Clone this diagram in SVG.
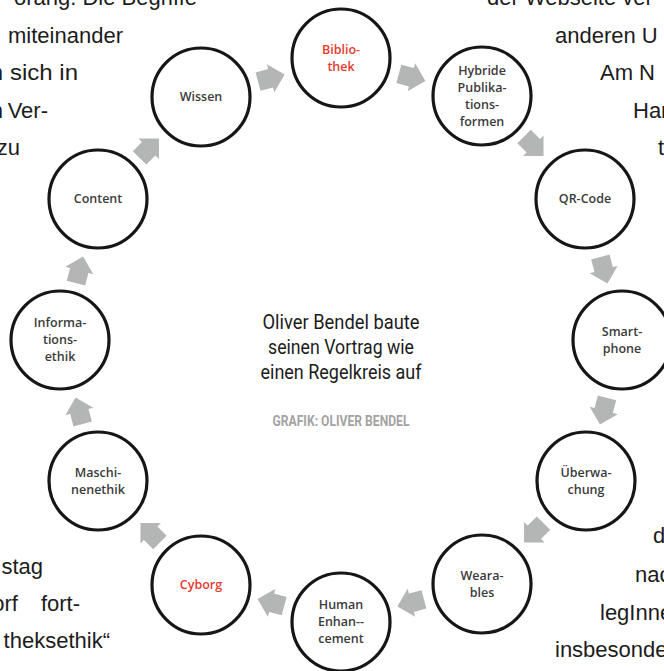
<svg xmlns="http://www.w3.org/2000/svg" width="664" height="671" viewBox="0 0 664 671">
<defs>
<style>
.nd circle{fill:#fff;stroke:#161616;stroke-width:3.2}
.lbl{font-family:"Open Sans","Noto Sans",sans-serif;font-size:12.5px;font-weight:600;fill:#3b3b3b;text-anchor:middle}
.red{fill:#e53a2e}
.arw{fill:#b4b6b5}
.body{font-family:"Liberation Sans",Arial,sans-serif;font-size:22px;fill:#1c1c1c}
.cap{font-family:Roboto,"Liberation Sans",sans-serif;font-size:21px;fill:#1c1c1c;text-anchor:middle}
.credit{font-family:Roboto,"Liberation Sans",sans-serif;font-size:14px;font-weight:bold;fill:#a3a3a3;text-anchor:middle}
.end{text-anchor:end}
</style>
<path id="ar" d="M-13,-9.5 H0 V-14.5 L14.5,0 L0,14.5 V9.5 H-13 Z"/>
</defs>
<rect width="664" height="671" fill="#fff"/>

<g id="article-text" class="body">
<text x="197" y="5" class="end">orang. Die Begriffe</text>
<text x="123" y="42.5" class="end">miteinander</text>
<text x="3" y="80" class="end">n</text>
<text x="10" y="80" textLength="68" lengthAdjust="spacingAndGlyphs">sich in</text>
<text x="3" y="117.5" class="end">n</text>
<text x="48" y="117.5" class="end">Ver-</text>
<text x="20" y="155" class="end">zu</text>
<text x="487" y="5">der Webseite ver</text>
<text x="555" y="42.5">anderen U</text>
<text x="600" y="80">Am N</text>
<text x="633" y="117.5">Har</text>
<text x="658" y="155">t</text>
<text x="43" y="574" class="end">stag</text>
<text x="18" y="611" class="end">orf</text>
<text x="80" y="611" class="end">fort-</text>
<text x="110" y="648" class="end">theksethik“</text>
<text x="653" y="543">d</text>
<text x="635" y="582">nac</text>
<text x="600" y="620">legInne</text>
<text x="555" y="657">insbesonde</text>
</g>

<g id="caption">
<text class="cap" x="341" y="329" textLength="157" lengthAdjust="spacingAndGlyphs">Oliver Bendel baute</text>
<text class="cap" x="341" y="354" textLength="146" lengthAdjust="spacingAndGlyphs">seinen Vortrag wie</text>
<text class="cap" x="341" y="379" textLength="161" lengthAdjust="spacingAndGlyphs">einen Regelkreis auf</text>
<text class="credit" x="341" y="426" textLength="137" lengthAdjust="spacingAndGlyphs">GRAFIK: OLIVER BENDEL</text>
</g>

<g id="connectors" class="arw">
<use href="#ar" transform="translate(411.4,77.3) rotate(15)"/>
<use href="#ar" transform="translate(533.3,145.7) rotate(45)"/>
<use href="#ar" transform="translate(603.7,269.6) rotate(75)"/>
<use href="#ar" transform="translate(603.7,410.4) rotate(105)"/>
<use href="#ar" transform="translate(534.3,532.3) rotate(135)"/>
<use href="#ar" transform="translate(411.4,602.7) rotate(165)"/>
<use href="#ar" transform="translate(271.6,602.7) rotate(195)"/>
<use href="#ar" transform="translate(150.7,533.3) rotate(225)"/>
<use href="#ar" transform="translate(79.3,411.4) rotate(255)"/>
<use href="#ar" transform="translate(79.3,270.6) rotate(285)"/>
<use href="#ar" transform="translate(148.7,148.7) rotate(315)"/>
<use href="#ar" transform="translate(270.6,78.3) rotate(345)"/>
</g>

<g id="node-bibliothek" class="nd">
<circle cx="341" cy="58" r="49"/>
<text class="lbl red" x="341" y="54">Biblio-</text>
<text class="lbl red" x="341" y="71">thek</text>
</g>
<g id="node-hybride" class="nd">
<circle cx="482" cy="96" r="49"/>
<text class="lbl" x="482" y="75">Hybride</text>
<text class="lbl" x="482" y="92">Publika-</text>
<text class="lbl" x="482" y="109">tions-</text>
<text class="lbl" x="482" y="126">formen</text>
</g>
<g id="node-qrcode" class="nd">
<circle cx="585" cy="199" r="49"/>
<text class="lbl" x="585" y="203">QR-Code</text>
</g>
<g id="node-smartphone" class="nd">
<circle cx="622" cy="340" r="49"/>
<text class="lbl" x="622" y="336">Smart-</text>
<text class="lbl" x="622" y="353">phone</text>
</g>
<g id="node-ueberwachung" class="nd">
<circle cx="586" cy="481" r="49"/>
<text class="lbl" x="586" y="477">Überwa-</text>
<text class="lbl" x="586" y="494">chung</text>
</g>
<g id="node-wearables" class="nd">
<circle cx="482" cy="584" r="49"/>
<text class="lbl" x="482" y="580">Weara-</text>
<text class="lbl" x="482" y="597">bles</text>
</g>
<g id="node-human-enhancement" class="nd">
<circle cx="341" cy="622" r="49"/>
<text class="lbl" x="341" y="609">Human</text>
<text class="lbl" x="341" y="626">Enhan--</text>
<text class="lbl" x="341" y="643">cement</text>
</g>
<g id="node-cyborg" class="nd">
<circle cx="201" cy="585" r="49"/>
<text class="lbl red" x="201" y="589">Cyborg</text>
</g>
<g id="node-maschinenethik" class="nd">
<circle cx="98" cy="481" r="49"/>
<text class="lbl" x="98" y="477">Maschi-</text>
<text class="lbl" x="98" y="494">nenethik</text>
</g>
<g id="node-informationsethik" class="nd">
<circle cx="60" cy="340" r="49"/>
<text class="lbl" x="60" y="327">Informa-</text>
<text class="lbl" x="60" y="344">tions-</text>
<text class="lbl" x="60" y="361">ethik</text>
</g>
<g id="node-content" class="nd">
<circle cx="98" cy="199" r="49"/>
<text class="lbl" x="98" y="203">Content</text>
</g>
<g id="node-wissen" class="nd">
<circle cx="201" cy="97" r="49"/>
<text class="lbl" x="201" y="101">Wissen</text>
</g>
</svg>
